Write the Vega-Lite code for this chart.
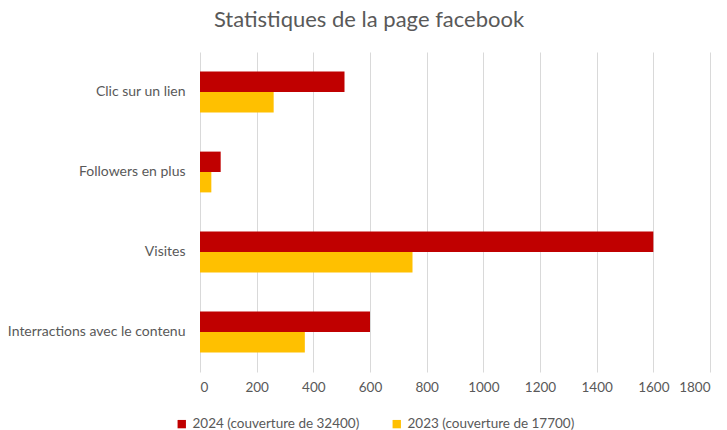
{
  "$schema": "https://vega.github.io/schema/vega-lite/v6.json",
  "autosize": {"type": "none"},
  "padding": {"left": 200, "top": 52, "right": 17, "bottom": 58},
  "width": 510,
  "height": 320,
  "background": "white",
  "title": {
    "text": "Statistiques de la page facebook",
    "font": "Lato",
    "fontSize": 22,
    "fontWeight": "normal",
    "color": "#595959",
    "anchor": "middle",
    "dx": -86,
    "offset": 20
  },
  "data": {
    "values": [
      {"categorie": "Clic sur un lien", "serie": "2024 (couverture de 32400)", "valeur": 510},
      {"categorie": "Clic sur un lien", "serie": "2023 (couverture de 17700)", "valeur": 260},
      {"categorie": "Followers en plus", "serie": "2024 (couverture de 32400)", "valeur": 73},
      {"categorie": "Followers en plus", "serie": "2023 (couverture de 17700)", "valeur": 40},
      {"categorie": "Visites", "serie": "2024 (couverture de 32400)", "valeur": 1600},
      {"categorie": "Visites", "serie": "2023 (couverture de 17700)", "valeur": 750},
      {"categorie": "Interractions avec le contenu", "serie": "2024 (couverture de 32400)", "valeur": 600},
      {"categorie": "Interractions avec le contenu", "serie": "2023 (couverture de 17700)", "valeur": 370}
    ]
  },
  "mark": {"type": "bar"},
  "encoding": {
    "y": {
      "field": "categorie",
      "type": "nominal",
      "sort": null,
      "scale": {"paddingInner": 0.49, "paddingOuter": 0.245},
      "axis": {
        "title": null,
        "domain": false,
        "ticks": false,
        "labelPadding": 15,
        "labelLimit": 0,
        "labelFont": "Lato",
        "labelFontSize": 14,
        "labelColor": "#595959"
      }
    },
    "yOffset": {"field": "serie", "type": "nominal", "sort": ["2024 (couverture de 32400)", "2023 (couverture de 17700)"]},
    "x": {
      "field": "valeur",
      "type": "quantitative",
      "scale": {"domain": [0, 1800]},
      "axis": {
        "title": null,
        "values": [0, 200, 400, 600, 800, 1000, 1200, 1400, 1600, 1800],
        "format": "d",
        "domain": false,
        "ticks": false,
        "grid": true,
        "gridColor": "#d9d9d9",
        "labelPadding": 8,
        "labelFont": "Lato",
        "labelFontSize": 13.5,
        "labelColor": "#595959"
      }
    },
    "color": {
      "field": "serie",
      "type": "nominal",
      "sort": ["2024 (couverture de 32400)", "2023 (couverture de 17700)"],
      "scale": {"range": ["#C00000", "#FFC000"]},
      "legend": {
        "title": null,
        "orient": "none",
        "direction": "horizontal",
        "legendX": -25,
        "legendY": 365,
        "symbolType": "square",
        "symbolSize": 70,
        "symbolStrokeWidth": 0,
        "columnPadding": 30,
        "labelLimit": 0,
        "labelFont": "Lato",
        "labelFontSize": 13.5,
        "labelColor": "#595959",
        "labelOffset": 4
      }
    }
  },
  "config": {"view": {"stroke": null}}
}
